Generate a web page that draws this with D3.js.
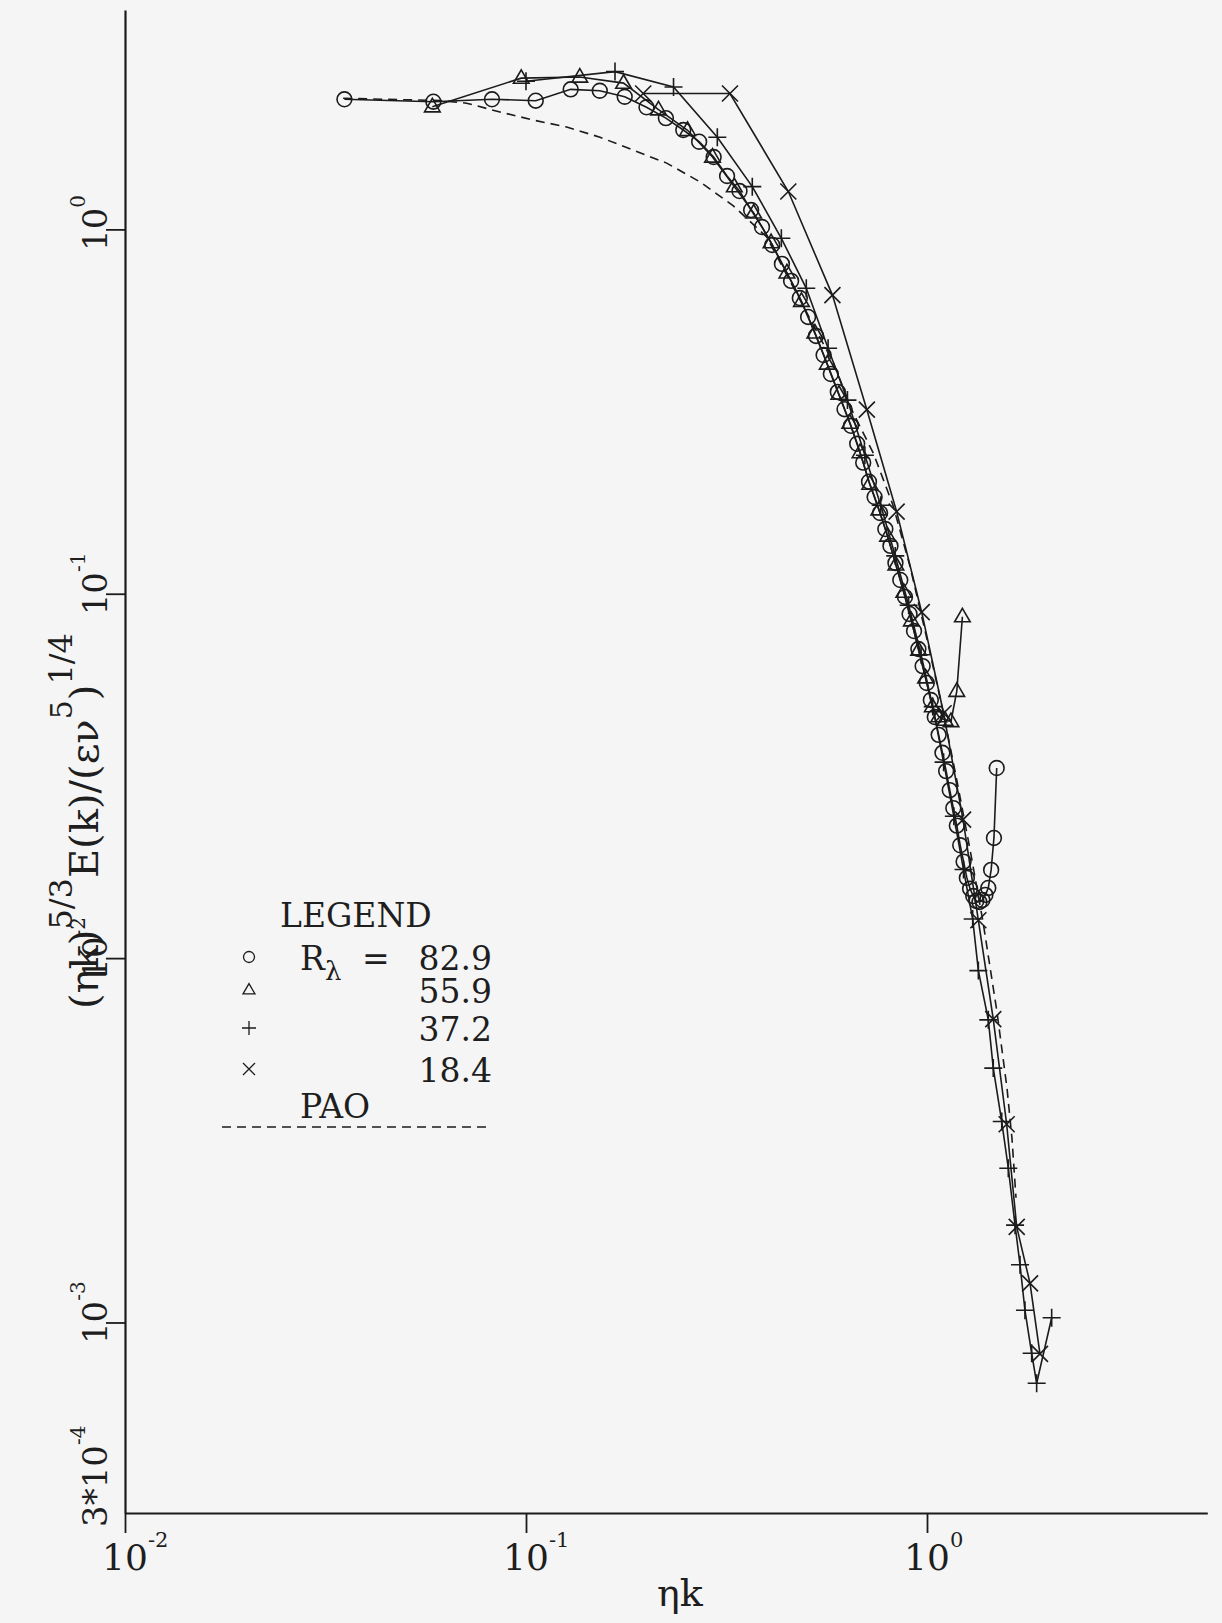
<!DOCTYPE html>
<html><head><meta charset="utf-8">
<script src="https://cdn.jsdelivr.net/npm/d3@7"></script>
<style>
html,body{margin:0;padding:0;background:#f5f5f5;}
svg{display:block;}
text{font-family:"DejaVu Serif","Liberation Serif",serif;fill:#1e1e1e;}
</style></head><body>
<svg id="chart" width="1222" height="1623"></svg>
<script>
// Compensated energy spectra (ηk)^{5/3} E(k) / (εν^5)^{1/4} versus ηk
// R_lambda = 82.9 (circles)
const circleK = [0.03525,0.05875,0.08225,0.10575,0.12925,0.15275,0.17625,0.19975,0.22325,0.24675,
  0.27025,0.29375,0.31725,0.34075,0.36425,0.38775,0.41125,0.43475,0.45825,0.48175,
  0.50525,0.52875,0.55225,0.57575,0.59925,0.62275,0.64625,0.66975,0.69325,0.71675,
  0.74025,0.76375,0.78725,0.81075,0.83425,0.85775,0.88125,0.90475,0.92825,0.95175,
  0.97525,0.99875,1.02225,1.04575,1.06925,1.09275,1.11625,1.13975,1.16325,1.18675,
  1.21025,1.23375,1.25725,1.28075,1.30425,1.32775,1.35125,1.37475,1.39825,1.42175,
  1.44525,1.46875,1.49225];
const circleE = [2.275,2.241,2.275,2.255,2.423,2.401,2.312,2.163,2.02,1.874,
  1.74,1.58,1.401,1.274,1.13,1.015,0.906,0.804,0.722,0.648,
  0.575,0.510,0.452,0.401,0.358,0.321,0.289,0.258,0.229,0.203,
  0.1843,0.1666,0.1505,0.1353,0.1215,0.1091,0.098,0.088,0.079,0.0705,
  0.0633,0.0569,0.0511,0.0459,0.041,0.0366,0.0326,0.0289,0.0258,0.0231,
  0.0204,0.0184,0.0166,0.0155,0.0148,0.01435,0.01426,0.01444,0.01491,0.01558,
  0.01746,0.02137,0.03325];

// R_lambda = 55.9 (triangles)
const triangleK = [0.0584,0.0973,0.1362,0.1751,0.2140,0.2529,0.2918,0.3307,0.3696,0.4085,
  0.4474,0.4863,0.5252,0.5641,0.6030,0.6419,0.6808,0.7197,0.7586,0.7975,
  0.8364,0.8753,0.9142,0.9531,0.9920,1.0309,1.0698,1.1087,1.1476,1.1865,1.2254];
const triangleE = [2.17,2.60,2.62,2.52,2.13,1.87,1.58,1.31,1.11,0.92,
  0.76,0.635,0.52,0.427,0.353,0.294,0.244,0.200,0.170,0.144,
  0.120,0.101,0.0843,0.070,0.0588,0.049,0.046,0.045,0.0446,0.054,0.0865];

// R_lambda = 37.2 (plus signs)
const plusK = [0.1,0.1667,0.2333,0.3,0.3667,0.4333,0.5,0.5667,0.6333,0.7,
  0.7667,0.8333,0.9,0.9667,1.0333,1.1,1.1667,1.2333,1.3,1.343,
  1.422,1.463,1.536,1.595,1.658,1.706,1.755,1.824,1.877,2.046];
const plusE = [2.55,2.71,2.46,1.79,1.31,0.945,0.689,0.472,0.34,0.24,
  0.175,0.127,0.093,0.068,0.049,0.0345,0.0245,0.0175,0.0128,0.00924,
  0.00677,0.00499,0.00356,0.00265,0.00185,0.00144,0.00108,0.000823,0.000681,0.00103];

// R_lambda = 18.4 (crosses)
const crossK = [0.196,0.3226,0.451,0.581,0.708,0.84,0.97,1.10,1.23,1.343,
  1.463,1.58,1.674,1.807,1.913];
const crossE = [2.36,2.36,1.27,0.66,0.32,0.168,0.089,0.047,0.024,0.0127,
  0.0068,0.0035,0.00183,0.00128,0.00082];

// Pao model spectrum (dashed)
const paoK = [0.035,0.0485,0.061,0.0711,0.0861,0.1043,0.1263,0.1529,0.1852,0.2243,
  0.2716,0.3289,0.3983,0.4824,0.583,0.655,0.735,0.8225,0.907,1.0,
  1.096,1.188,1.28,1.379,1.495,1.583,1.629,1.667];
const paoE = [2.29,2.27,2.257,2.22,2.10,1.995,1.91,1.79,1.65,1.52,
  1.35,1.16,0.953,0.64,0.4325,0.313,0.243,0.175,0.119,0.075,
  0.0477,0.0306,0.0199,0.0126,0.0071,0.0044,0.0032,0.0022];

// axis ticks
const xMajor = [0.01, 0.1, 1];
const xMajorExp = ["-2", "-1", "0"];
const yMajor = [1e-3, 1e-2, 1e-1, 1];
const yMajorExp = ["-3", "-2", "-1", "0"];
const legendLabels = ["82.9", "55.9", "37.2", "18.4"];

const svg = d3.select("#chart");
const INK = "#1b1b1b";
const LW = 1.6;

const x = d3.scaleLog().domain([0.01, 5]).range([125, 125 + 401 * Math.log10(500)]);
const y = d3.scaleLog().domain([3e-4, 4]).range([1513, 10]);

function minorTicks(lo, hi) {
  const out = [];
  for (let e = -5; e <= 1; e++) {
    for (let m = 2; m <= 9; m++) {
      const v = m * Math.pow(10, e);
      if (v >= lo * 0.999 && v <= hi * 1.001) out.push(v);
    }
  }
  return out;
}

// y axis
const gy = svg.append("g").attr("transform", "translate(125,0)");
gy.call(d3.axisLeft(y).tickValues(minorTicks(3e-4, 4)).tickSize(14).tickFormat("").tickSizeOuter(0));
gy.call(d3.axisLeft(y).tickValues(yMajor).tickSize(19).tickFormat("").tickSizeOuter(0));
gy.selectAll("path.domain").attr("stroke", INK).attr("stroke-width", 2.2);
gy.selectAll(".tick line").attr("stroke", INK).attr("stroke-width", 1.8);

// x axis
const gx = svg.append("g").attr("transform", "translate(0,1513)");
gx.call(d3.axisBottom(x).tickValues(minorTicks(0.01, 5)).tickSize(13).tickFormat("").tickSizeOuter(0));
gx.call(d3.axisBottom(x).tickValues(xMajor).tickSize(20).tickFormat("").tickSizeOuter(0));
gx.selectAll("path.domain").attr("stroke", INK).attr("stroke-width", 2.2);
gx.selectAll(".tick line").attr("stroke", INK).attr("stroke-width", 1.8);

// power-of-ten label: base centred on anchor, exponent raised after it
function powerLabel(parent, tx, ty, rot, base, exp, size, supSize, rise) {
  const g = parent.append("g").attr("transform", `translate(${tx},${ty}) rotate(${rot})`);
  const t = g.append("text").attr("font-size", size);
  const b = t.append("tspan").text(base);
  t.append("tspan").attr("font-size", supSize).attr("dy", -rise).text(exp);
  const w = b.node().getComputedTextLength();
  t.attr("x", -w / 2);
  return g;
}

yMajor.forEach((v, i) => powerLabel(svg, 107, y(v), -90, "10", yMajorExp[i], 34, 20, 22));
powerLabel(svg, 107, 1486, -90, "3*10", "-4", 34, 20, 22);
xMajor.forEach((v, i) => powerLabel(svg, x(v), 1570, 0, "10", xMajorExp[i], 36, 21, 23));

// axis titles
svg.append("text").attr("x", 680).attr("y", 1606).attr("font-size", 38)
  .attr("text-anchor", "middle").text("ηk");

const yt = svg.append("text").attr("font-size", 40)
  .attr("transform", "translate(98,1009) rotate(-90)");
yt.append("tspan").text("(ηk)");
yt.append("tspan").attr("dy", -26).attr("font-size", 32).text("5/3");
yt.append("tspan").attr("dy", 26).text("E(k)/(εν");
yt.append("tspan").attr("dy", -26).attr("font-size", 30).text("5");
yt.append("tspan").attr("dy", 26).text(")");
yt.append("tspan").attr("dy", -26).attr("font-size", 32).text("1/4");

// symbols
function symbolPath(kind, s) {
  if (kind === "circle") {
    return `M${s},0A${s},${s} 0 1,1 ${-s},0A${s},${s} 0 1,1 ${s},0Z`;
  }
  if (kind === "triangle") {
    const h = s * 1.732;
    return `M0,${-h * 0.62}L${s},${h * 0.38}L${-s},${h * 0.38}Z`;
  }
  if (kind === "plus") {
    return `M${-s},0L${s},0M0,${-s}L0,${s}`;
  }
  return `M${-s},${-s}L${s},${s}M${-s},${s}L${s},${-s}`;
}

const line = d3.line().x(d => x(d[0])).y(d => y(d[1]));
const plot = svg.append("g");

const series = [
  { k: circleK, e: circleE, sym: "circle", size: 7.4 },
  { k: triangleK, e: triangleE, sym: "triangle", size: 7.8 },
  { k: plusK, e: plusE, sym: "plus", size: 9 },
  { k: crossK, e: crossE, sym: "cross", size: 8 }
];

series.forEach(s => {
  const pts = s.k.map((k, i) => [k, s.e[i]]);
  plot.append("path").attr("d", line(pts)).attr("fill", "none")
    .attr("stroke", INK).attr("stroke-width", LW);
  plot.append("g").selectAll("path").data(pts).join("path")
    .attr("transform", d => `translate(${x(d[0])},${y(d[1])})`)
    .attr("d", symbolPath(s.sym, s.size))
    .attr("fill", "none").attr("stroke", INK).attr("stroke-width", LW);
});

plot.append("path").attr("d", line(paoK.map((k, i) => [k, paoE[i]])))
  .attr("fill", "none").attr("stroke", INK).attr("stroke-width", LW)
  .attr("stroke-dasharray", "9,6");

// legend
const lg = svg.append("g");
lg.append("text").attr("x", 280).attr("y", 927).attr("font-size", 33).text("LEGEND");
const legY = [970, 1003, 1041, 1082];
const legSym = ["circle", "triangle", "plus", "cross"];
const legSize = [5.5, 6, 7, 6];
legSym.forEach((s, i) => {
  lg.append("path").attr("transform", `translate(249,${legY[i] - 13})`)
    .attr("d", symbolPath(s, legSize[i])).attr("fill", "none")
    .attr("stroke", INK).attr("stroke-width", 1.3);
});
lg.append("text").attr("x", 300).attr("y", legY[0]).attr("font-size", 33).text("R");
lg.append("text").attr("x", 325).attr("y", legY[0] + 10).attr("font-size", 26).text("λ");
lg.append("text").attr("x", 362).attr("y", legY[0]).attr("font-size", 33).text("=");
legendLabels.forEach((t, i) => {
  lg.append("text").attr("x", 492).attr("y", legY[i]).attr("font-size", 33)
    .attr("text-anchor", "end").text(t);
});
lg.append("text").attr("x", 300).attr("y", 1118).attr("font-size", 33).text("PAO");
lg.append("line").attr("x1", 222).attr("x2", 489).attr("y1", 1127).attr("y2", 1127)
  .attr("stroke", INK).attr("stroke-width", 1.4).attr("stroke-dasharray", "9,6");
</script>
</body></html>
